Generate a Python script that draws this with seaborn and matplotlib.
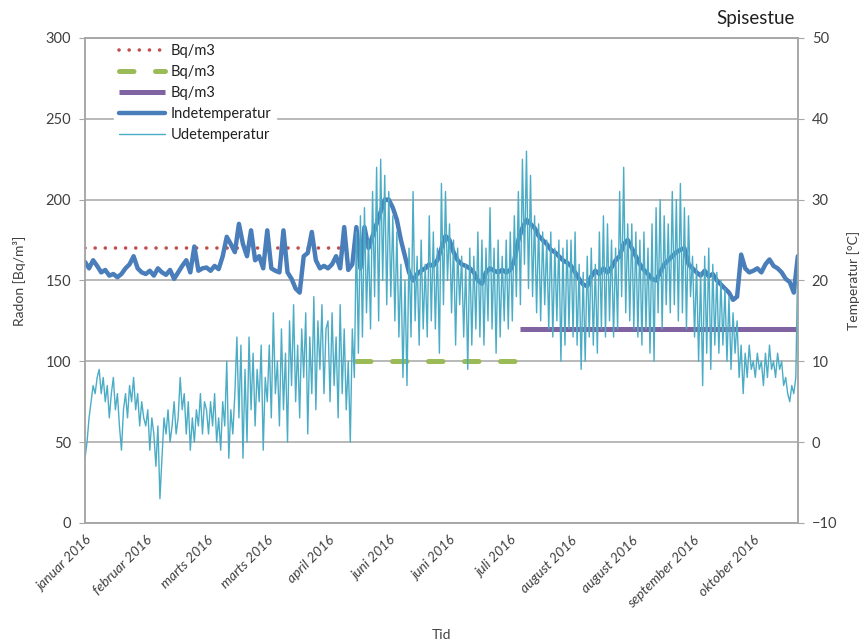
import numpy as np
import pandas as pd
import matplotlib
matplotlib.use("Agg")
import matplotlib.pyplot as plt
import seaborn as sns

# tick labels on the time axis (category axis, one tick every 30 samples)
maaneder = ['januar 2016', 'februar 2016', 'marts 2016', 'marts 2016', 'april 2016',
            'juni 2016', 'juni 2016', 'juli 2016', 'august 2016', 'august 2016',
            'september 2016', 'oktober 2016']

# radon levels (Bq/m3) and the sample range they cover
radon_niveau = [170, 100, 120]
radon_start = [0, 134, 215]
radon_slut = [129, 213, 352]

# udetemperatur, one value per sample (°C)
udetemp = [
    -2, 0, 3, 5, 7, 6, 8, 9, 6, 8, 5, 7, 3, 6, 8, 4, 6, 2, -1, 4, 6, 3, 7, 5, 8, 4, 6, 2, 5, 3,
    2, 4, -1, 3, 1, -3, 2, -7, -2, 3, 1, 4, 0, 2, 5, 1, 3, 8, 4, 6, 1, 5, -1, 3, 0, 4, 2, 6, 1, 5,
    4, 1, 5, 2, 6, 0, 3, -1, 5, 2, 10, -2, 4, 1, 6, 13, 3, 12, -2, 9, 0, 13, 4, 11, 2, 9, 5, 12, -1, 8,
    5, 12, 3, 16, 6, 10, 2, 14, 4, 11, 0, 15, 7, 17, 5, 12, 3, 14, 8, 16, 1, 13, 6, 18, 4, 15, 9, 17, 6, 14,
    15, 5, 16, 7, 13, 3, 17, 6, 14, 4, 10, 0, 14, 8, 26, 11, 28, 13, 29, 16, 25, 14, 31, 18, 34, 15, 35, 20, 33, 17,
    31, 18, 28, 15, 26, 13, 22, 8, 20, 7, 24, 13, 31, 15, 23, 12, 25, 14, 22, 13, 28, 15, 26, 14, 24, 11, 32, 17, 31, 20,
    27, 16, 25, 12, 24, 17, 23, 13, 22, 9, 24, 12, 23, 14, 26, 13, 25, 12, 24, 15, 29, 14, 24, 11, 25, 13, 23, 15, 25, 14,
    26, 15, 28, 18, 31, 17, 35, 22, 36, 19, 33, 18, 28, 16, 27, 15, 26, 17, 25, 14, 26, 13, 24, 15, 25, 10, 24, 12, 25, 14,
    25, 13, 26, 12, 22, 9, 21, 10, 23, 13, 24, 12, 22, 11, 26, 14, 28, 13, 27, 15, 25, 13, 24, 14, 31, 18, 34, 16, 27, 15,
    27, 14, 26, 13, 25, 12, 26, 14, 24, 11, 27, 10, 29, 16, 30, 14, 28, 17, 27, 16, 31, 17, 30, 15, 32, 16, 29, 14, 28, 18,
    23, 13, 22, 10, 21, 7, 23, 11, 24, 9, 22, 12, 21, 11, 20, 12, 19, 10, 18, 9, 16, 11, 15, 8, 12, 6, 11, 8, 12, 9,
    10, 8, 11, 9, 10, 7, 11, 8, 12, 9, 10, 8, 11, 9, 10, 7, 8, 6, 5, 7, 6, 8, 23,
]

# indetemperatur, one value every second sample (°C)
indetemp = [
    22.3, 21.5, 22.5, 21.8, 21.0, 21.3, 20.6, 20.8, 20.4, 20.8, 21.5, 22.0, 23.0, 21.5, 21.0,
    20.8, 21.2, 20.6, 21.5, 21.0, 20.7, 21.3, 20.2, 21.0, 21.8, 22.5, 21.0, 24.2, 21.2, 21.5,
    21.6, 21.2, 21.8, 21.4, 23.0, 25.4, 24.5, 23.5, 27.0, 24.5, 23.0, 26.2, 22.5, 23.0, 21.5,
    26.2, 21.5, 21.2, 21.0, 26.2, 21.0, 20.2, 19.0, 18.5, 23.0, 23.4, 26.0, 22.5, 21.5, 21.8,
    21.5, 22.0, 23.0, 21.5, 26.6, 21.3, 22.0, 26.6, 21.5, 26.6, 24.0, 25.5, 27.0, 28.5, 30.0,
    30.0, 29.0, 27.5, 25.0, 23.0, 21.0, 20.0, 20.8, 21.2, 21.5, 22.0, 21.8, 22.5, 24.0, 25.5,
    25.0, 23.5, 22.5, 22.0, 21.8, 21.5, 21.0, 20.0, 19.6, 21.0, 21.5, 21.2, 21.0, 21.3, 21.0,
    21.3, 22.5, 25.0, 26.5, 27.5, 27.0, 26.5, 25.5, 25.0, 24.5, 23.8, 23.5, 23.0, 22.5, 22.2,
    21.8, 21.0, 20.2, 19.5, 19.3, 20.5, 21.2, 20.8, 21.5, 21.0, 21.6, 22.5, 23.0, 24.5, 25.0,
    24.0, 23.0, 22.0, 21.3, 20.8, 20.2, 20.0, 21.0, 22.0, 22.5, 23.0, 23.5, 23.8, 24.0, 22.0,
    21.5, 21.0, 20.6, 21.2, 20.5, 20.8, 20.0, 19.5, 19.0, 18.5, 17.6, 18.0, 23.2, 21.5, 21.0,
    21.2, 21.5, 21.0, 22.0, 22.6, 21.8, 21.5, 21.0, 20.2, 19.8, 18.5, 23.0,
]

ude_df = pd.DataFrame({'x': np.arange(len(udetemp)), 'temp': udetemp})
inde_df = pd.DataFrame({'x': np.arange(len(indetemp)) * 2, 'temp': indetemp})

sns.set_style("white")
plt.rcParams['font.family'] = ['Lato', 'DejaVu Sans']
tekst = '#404040'
graa = '#a6a6a6'

fig = plt.figure(figsize=(8.63, 6.44), dpi=100)
ax = fig.add_axes([0.0985, 0.188, 0.826, 0.753])
ax2 = ax.twinx()

# radon series on the left axis
radon_farver = ['#C0504D', '#9BBB59', '#8064A2']
radon_stil = [
    dict(linewidth=2.6, linestyle=(0, (0.01, 2.8)), dash_capstyle='round'),
    dict(linewidth=3.6, linestyle=(0, (2.9, 4.3)), dash_capstyle='round'),
    dict(linewidth=3.6, linestyle='-', solid_capstyle='butt'),
]
for niv, s, e, farve, stil in zip(radon_niveau, radon_start, radon_slut, radon_farver, radon_stil):
    sns.lineplot(x=[s, e], y=[niv, niv], ax=ax, color=farve, label='Bq/m3', legend=False, **stil)

# temperatures on the right axis
sns.lineplot(data=inde_df, x='x', y='temp', ax=ax2, color='#4A7EBB', linewidth=3.2,
             estimator=None, label='Indetemperatur', legend=False)
sns.lineplot(data=ude_df, x='x', y='temp', ax=ax2, color='#4BACC6', linewidth=1.0,
             estimator=None, label='Udetemperatur', legend=False)

ax.set_xlim(0, 352)
ax.set_ylim(0, 300)
ax2.set_ylim(-10, 50)
ax.set_yticks(range(0, 301, 50))
ax2.set_yticks(range(-10, 51, 10))
ax.set_xticks(range(0, 331, 30))
ax.set_xticklabels(maaneder, rotation=45, ha='right', rotation_mode='anchor',
                   fontstyle='italic', fontsize=10, color=tekst)

ax.yaxis.grid(True, color=graa, linewidth=1.1)
ax.set_axisbelow(True)
for a in (ax, ax2):
    for sp in a.spines.values():
        sp.set_color(graa)
        sp.set_linewidth(1.1)
ax.tick_params(axis='y', direction='out', length=4, color=graa, labelsize=10.5, labelcolor=tekst, pad=6)
ax.tick_params(axis='x', direction='out', length=5, color=graa, pad=3)
ax2.tick_params(axis='y', direction='out', length=4, color=graa, labelsize=10.5, labelcolor=tekst, pad=6)

ax.set_ylabel('Radon [Bq/m³]', fontsize=10, color=tekst, labelpad=14)
ax2.set_ylabel('Temperatur [°C]', fontsize=10, color=tekst, labelpad=7)
ax.set_xlabel('Tid', fontsize=10, color=tekst, labelpad=14)
ax2.set_xlabel('')

fig.text(0.921, 0.972, 'Spisestue', ha='right', va='center', fontsize=13.5, color='#202020')

handles = ax.get_lines()[:3] + ax2.get_lines()[:2]
labels = ['Bq/m3', 'Bq/m3', 'Bq/m3', 'Indetemperatur', 'Udetemperatur']
leg = ax2.legend(handles, labels, loc='upper left', bbox_to_anchor=(0.041, 0.996),
                 frameon=True, fontsize=10.5, handlelength=3.2, labelspacing=0.48,
                 handletextpad=0.4, borderpad=0.3, borderaxespad=0.0)
leg.get_frame().set_facecolor('white')
leg.get_frame().set_edgecolor('white')
leg.get_frame().set_alpha(1.0)
for t in leg.get_texts():
    t.set_color('#202020')

fig.savefig('out.png', dpi=100)
